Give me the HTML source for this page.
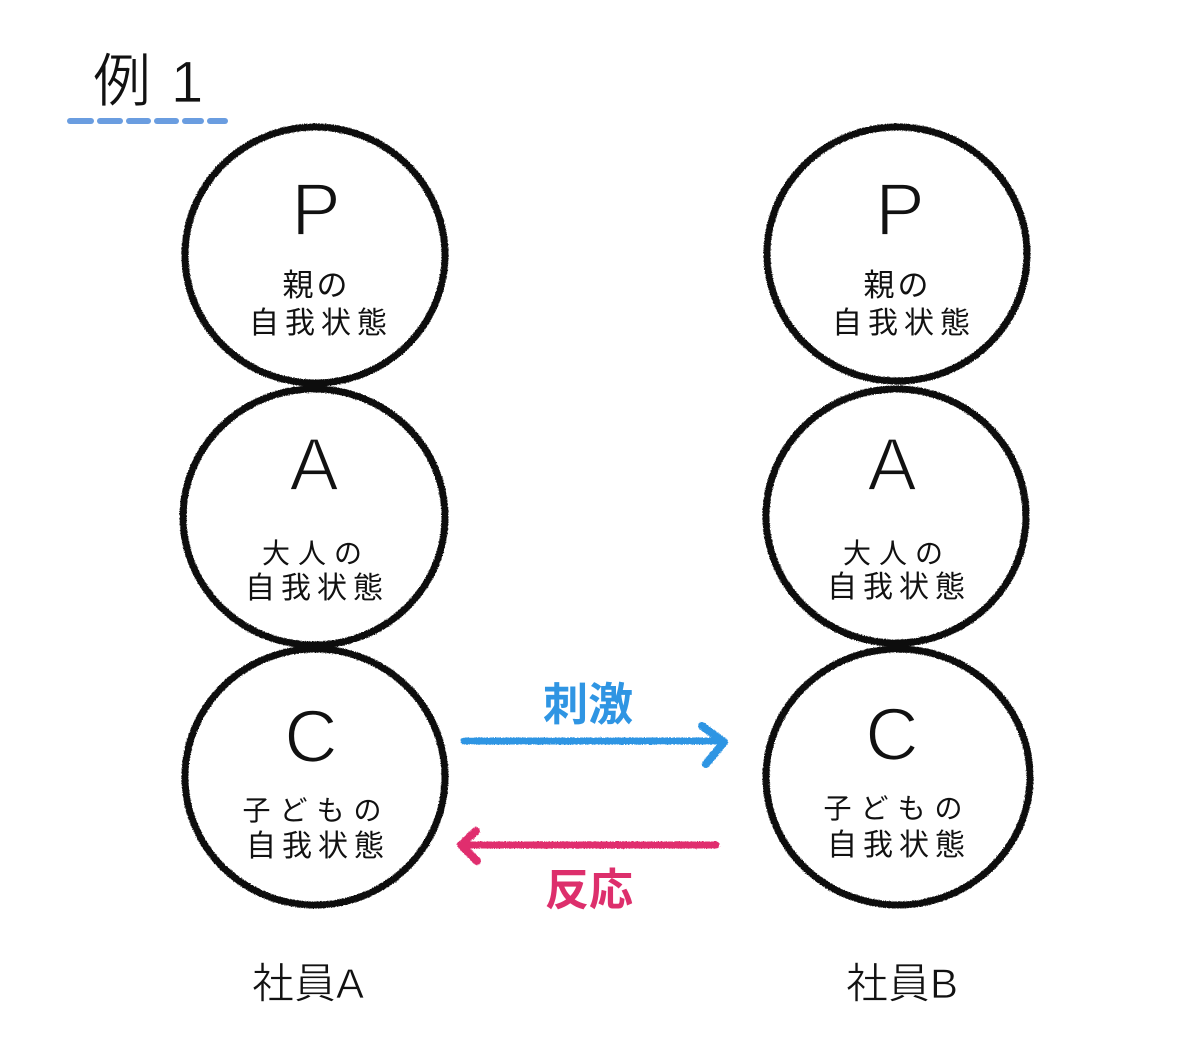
<!DOCTYPE html>
<html>
<head>
<meta charset="utf-8">
<style>
  html,body{margin:0;padding:0;background:#fff;}
  body{width:1200px;height:1046px;overflow:hidden;}
  svg{display:block;}
  .t{font-family:"Liberation Sans","Noto Sans CJK JP",sans-serif;fill:#111;}
  .j{font-family:"Noto Sans CJK JP","Liberation Sans",sans-serif;fill:#111;}
  .big{font-family:"Liberation Sans",sans-serif;fill:#111;font-size:74px;stroke:#fff;stroke-width:1.8px;}
  .thin{stroke:#fff;stroke-width:0.7px;}
</style>
</head>
<body>
<svg width="1200" height="1046" viewBox="0 0 1200 1046" xmlns="http://www.w3.org/2000/svg">
  <defs>
    <filter id="r" x="-5%" y="-5%" width="110%" height="110%">
      <feTurbulence type="fractalNoise" baseFrequency="0.9" numOctaves="2" seed="4" result="n"/>
      <feDisplacementMap in="SourceGraphic" in2="n" scale="2.5" xChannelSelector="R" yChannelSelector="G"/>
    </filter>
  </defs>
  <rect width="1200" height="1046" fill="#fff"/>

  <!-- title -->
  <text class="j thin" x="93" y="101" font-size="58">例</text>
  <text class="t thin" x="171" y="102" font-size="58">1</text>
  <g stroke="#6a9de0" stroke-width="6" stroke-linecap="round">
    <line x1="70" y1="121" x2="91" y2="121"/>
    <line x1="100" y1="121" x2="120" y2="121"/>
    <line x1="129" y1="121" x2="148" y2="121"/>
    <line x1="157" y1="121" x2="176" y2="121"/>
    <line x1="185" y1="121" x2="201" y2="121"/>
    <line x1="210" y1="121" x2="225" y2="121"/>
  </g>

  <!-- circles -->
  <g fill="none" stroke="#0a0a0a" stroke-width="7" filter="url(#r)">
    <ellipse cx="315" cy="255" rx="130" ry="128"/>
    <ellipse cx="314" cy="517" rx="131" ry="128"/>
    <ellipse cx="315" cy="777" rx="130" ry="128"/>
    <ellipse cx="897" cy="254" rx="130" ry="127"/>
    <ellipse cx="896" cy="516" rx="130" ry="127"/>
    <ellipse cx="898" cy="777" rx="132" ry="128"/>
  </g>

  <!-- left column text -->
  <text class="big" x="316" y="235" text-anchor="middle">P</text>
  <text class="j" x="316.5" y="296" font-size="31" letter-spacing="3" text-anchor="middle">親の</text>
  <text class="j" x="321" y="333" font-size="30" letter-spacing="6" text-anchor="middle">自我状態</text>

  <text class="big" x="314" y="490" text-anchor="middle">A</text>
  <text class="j" x="316" y="563" font-size="28" letter-spacing="8" text-anchor="middle">大人の</text>
  <text class="j" x="317" y="598" font-size="30" letter-spacing="6" text-anchor="middle">自我状態</text>

  <text class="big" x="311" y="762" text-anchor="middle">C</text>
  <text class="j" x="316.5" y="820" font-size="28" letter-spacing="9" text-anchor="middle">子どもの</text>
  <text class="j" x="318" y="856" font-size="30" letter-spacing="6" text-anchor="middle">自我状態</text>

  <!-- right column text -->
  <text class="big" x="900" y="235" text-anchor="middle">P</text>
  <text class="j" x="897.5" y="296" font-size="31" letter-spacing="3" text-anchor="middle">親の</text>
  <text class="j" x="904" y="333" font-size="30" letter-spacing="6" text-anchor="middle">自我状態</text>

  <text class="big" x="892" y="490" text-anchor="middle">A</text>
  <text class="j" x="897" y="563" font-size="28" letter-spacing="8" text-anchor="middle">大人の</text>
  <text class="j" x="899" y="597" font-size="30" letter-spacing="6" text-anchor="middle">自我状態</text>

  <text class="big" x="892" y="760" text-anchor="middle">C</text>
  <text class="j" x="897.5" y="818" font-size="28" letter-spacing="9" text-anchor="middle">子どもの</text>
  <text class="j" x="899" y="855" font-size="30" letter-spacing="6" text-anchor="middle">自我状態</text>

  <!-- arrows -->
  <g fill="none" stroke-linecap="round" stroke-linejoin="round" filter="url(#r)">
    <path d="M464 741 L722 741" stroke="#2f95e3" stroke-width="7"/>
    <path d="M702 726 L724 742 L706 764" stroke="#2f95e3" stroke-width="8"/>
    <path d="M462 845 L716 845" stroke="#e02d6e" stroke-width="7"/>
    <path d="M476 831 L461 845 L477 861" stroke="#e02d6e" stroke-width="8"/>
  </g>
  <text class="j" x="588" y="720" font-size="45" font-weight="bold" text-anchor="middle" style="fill:#2f95e3">刺激</text>
  <text class="j" x="589" y="905" font-size="44" font-weight="bold" text-anchor="middle" style="fill:#dd2f6c">反応</text>

  <!-- bottom labels -->
  <text class="t thin" x="308" y="998" font-size="42" text-anchor="middle">社員A</text>
  <text class="t thin" x="902" y="998" font-size="42" text-anchor="middle">社員B</text>
</svg>
</body>
</html>
